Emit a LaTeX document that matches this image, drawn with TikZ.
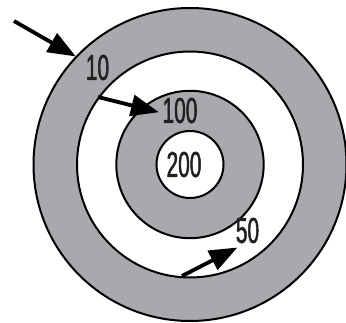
\documentclass[tikz,border=0pt]{standalone}
\usepackage{fontspec}
\newfontfamily\lblfont[FakeStretch=0.58,FakeBold=1.3]{Liberation Sans}
\usetikzlibrary{arrows.meta}
\definecolor{ringgray}{HTML}{A7A9AC}
\definecolor{txt}{HTML}{231F20}
\tikzset{
  ring/.style={draw=black, line width=2pt},
  lbl/.style={font=\lblfont\fontsize{36}{36}\selectfont, text=txt, inner sep=0pt},
  pointer/.style={line width=3.8pt, -{Triangle[length=28pt,width=21pt]}, shorten >=-1pt}
}
\begin{document}
\begin{tikzpicture}[x=1pt,y=1pt]
\useasboundingbox (0,0) rectangle (346,322);
\coordinate (c) at (190,157.5);
\filldraw[ring, fill=ringgray] (c) circle[radius=156.5];
\filldraw[ring, fill=white] (c) circle[radius=113];
\filldraw[ring, fill=ringgray] (c) circle[radius=73.7];
\filldraw[ring, fill=white] (c) circle[radius=33.5];
\node[lbl] (l10) at (97.5,254.5) {10};
\node[lbl] (l100) at (180,211.5) {100};
\node[lbl] (l200) at (184,157.5) {200};
\node[lbl] (l50) at (247.5,91.5) {50};
\coordinate (a1s) at (14,301);
\coordinate (a1e) at (75,266);
\coordinate (a2s) at (98,225);
\coordinate (a2e) at (158,210);
\coordinate (a3s) at (182,46);
\coordinate (a3e) at (236.5,74);
\draw[pointer] (a1s) -- (a1e);
\draw[pointer] (a2s) -- (a2e);
\draw[pointer] (a3s) -- (a3e);
\end{tikzpicture}
\end{document}
